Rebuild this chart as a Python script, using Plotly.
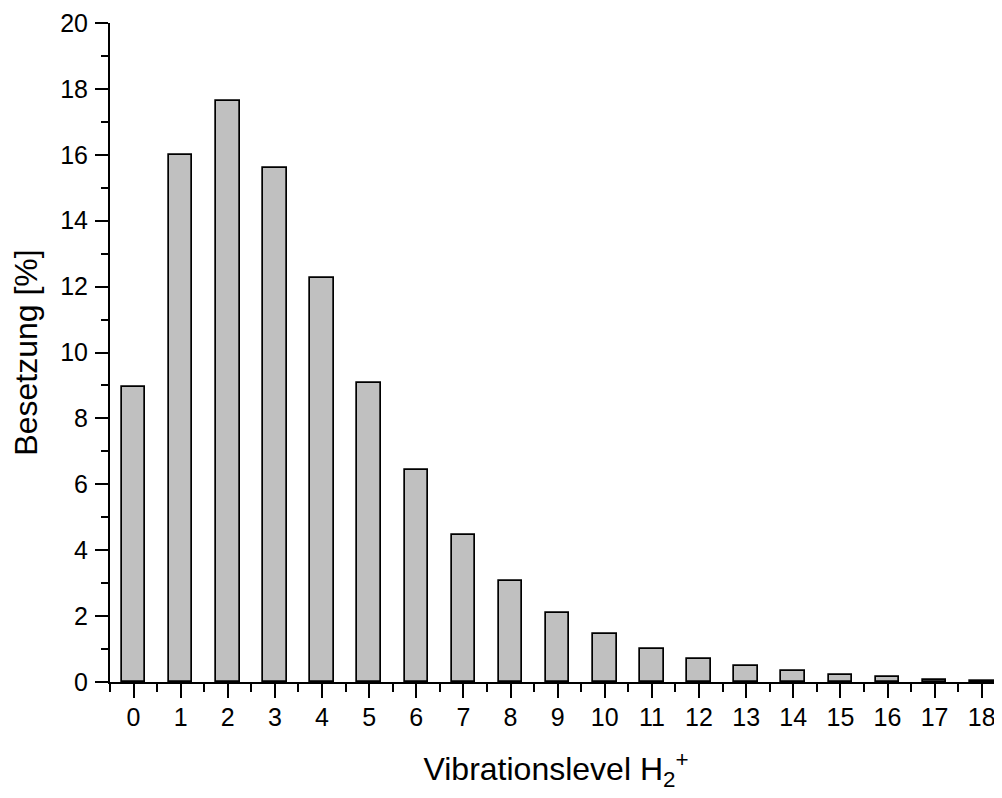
import plotly.graph_objects as go

levels = list(range(19))
tick_labels = [str(i) for i in levels]
besetzung = [8.96, 16.0, 17.62, 15.59, 12.27, 9.06, 6.43, 4.47, 3.07, 2.10,
             1.46, 1.0, 0.69, 0.48, 0.33, 0.22, 0.14, 0.07, 0.03]
y_ticks = [0, 2, 4, 6, 8, 10, 12, 14, 16, 18, 20]

FONT = "Liberation Sans, Arial, sans-serif"

fig = go.Figure()
fig.add_trace(go.Bar(
    x=levels, y=besetzung, width=0.5,
    marker=dict(color="#C0C0C0", line=dict(color="black", width=1.7)),
    showlegend=False,
))

# the page body adds an 8px offset; margins compensate for it
fig.update_layout(
    width=994, height=790,
    margin=dict(l=102, r=0, t=15, b=116),
    plot_bgcolor="white", paper_bgcolor="white",
    font=dict(family=FONT, color="black"),
    bargap=0,
)
fig.update_xaxes(
    range=[-0.5, 18.43], tickmode="array", tickvals=levels, ticktext=tick_labels,
    automargin=False,
    showgrid=False, zeroline=False, showline=True, linecolor="black", linewidth=2,
    ticks="outside", ticklen=14, tickwidth=2, tickcolor="black",
    tickfont=dict(size=25, family=FONT), ticklabelstandoff=-2,
    minor=dict(tick0=0.5, dtick=1, ticks="outside", ticklen=8, tickwidth=2, tickcolor="black"),
    title=dict(text="Vibrationslevel H<sub>2</sub><sup>+</sup>", font=dict(size=32, family=FONT), standoff=28),
)
fig.update_yaxes(
    range=[0, 20], tickmode="array", tickvals=y_ticks,
    automargin=False,
    showgrid=False, zeroline=False, showline=True, linecolor="black", linewidth=2,
    ticks="outside", ticklen=13, tickwidth=2, tickcolor="black",
    tickfont=dict(size=25, family=FONT), ticklabelstandoff=2,
    minor=dict(tick0=1, dtick=2, ticks="outside", ticklen=7, tickwidth=2, tickcolor="black"),
    title=dict(text="Besetzung [%]", font=dict(size=32, family=FONT), standoff=19),
)

fig.write_html("out.html")
